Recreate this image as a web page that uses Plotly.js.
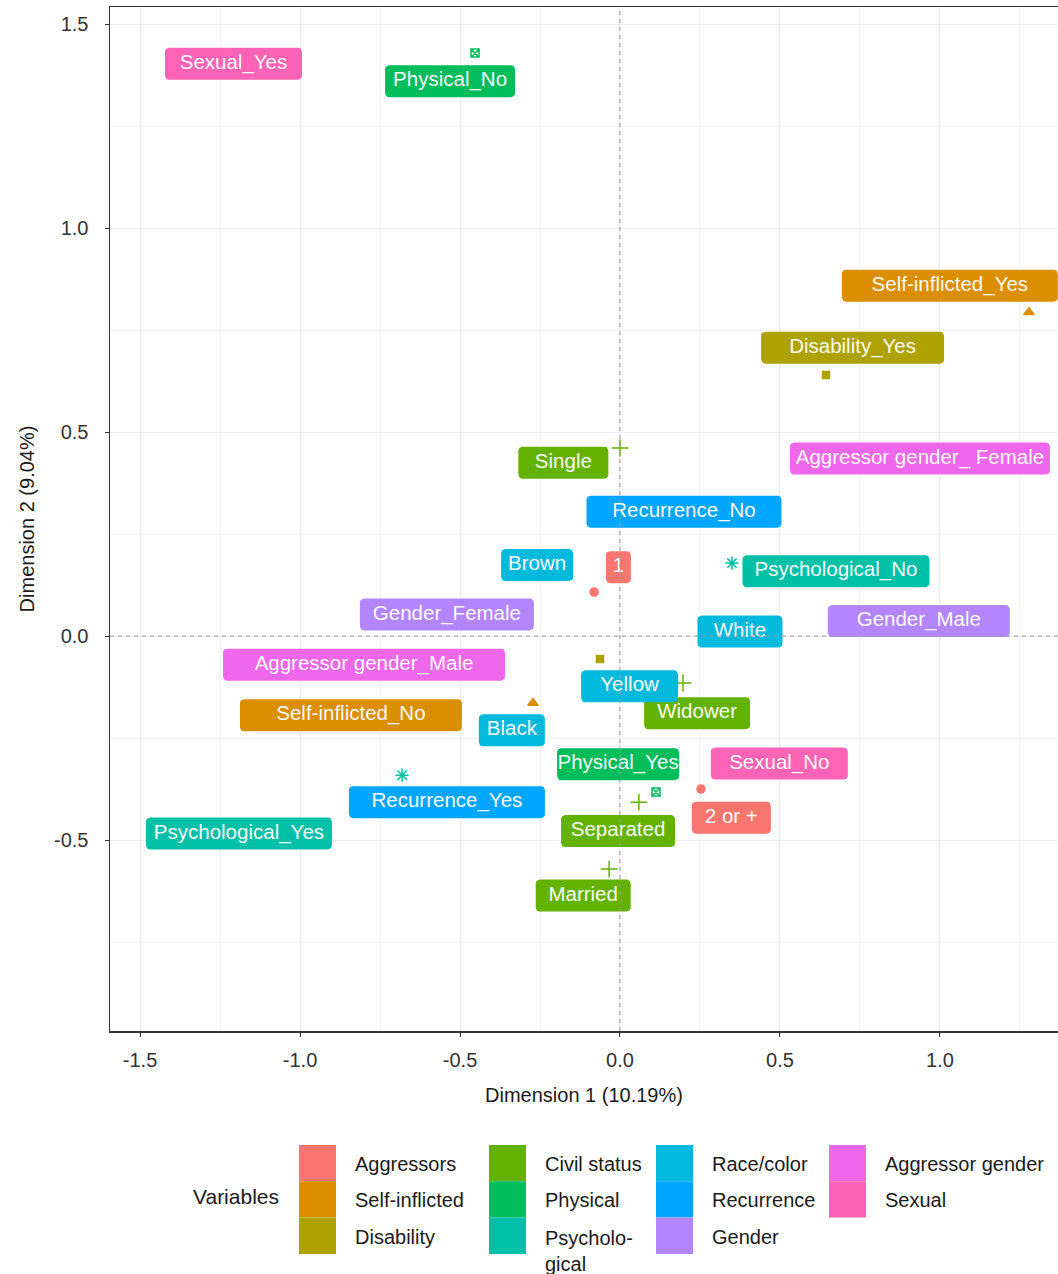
<!DOCTYPE html>
<html>
<head>
<meta charset="utf-8">
<script src="https://cdn.plot.ly/plotly-3.0.1.min.js"></script>
<style>html,body{margin:0;padding:0;background:#ffffff;}</style>
</head>
<body>
<div id="chart" style="width:1058px;height:1274px;"></div>
<script>
// ---------------- DATA ----------------
const groups = ['Aggressors','Self-inflicted','Disability','Civil status','Physical','Psychological','Race/color','Recurrence','Gender','Aggressor gender','Sexual'];
const groupLegendLabels = ['Aggressors','Self-inflicted','Disability','Civil status','Physical','Psycholo-<br>gical','Race/color','Recurrence','Gender','Aggressor gender','Sexual'];

// category points (only groups that get a shape)
const pointCategories = ['1','2 or +','Self-inflicted_Yes','Self-inflicted_No','Disability_Yes','Disability_No','Single','Widower','Separated','Married','Physical_No','Physical_Yes','Psychological_No','Psychological_Yes'];
const pointGroups = ['Aggressors','Aggressors','Self-inflicted','Self-inflicted','Disability','Disability','Civil status','Civil status','Civil status','Civil status','Physical','Physical','Psychological','Psychological'];
const pointDim1 = [-0.081, 0.253, 1.278, -0.272, 0.644, -0.0625, 0.000, 0.197, 0.059, -0.034, -0.453, 0.1125, 0.350, -0.681];
const pointDim2 = [0.108, -0.375, 0.794, -0.164, 0.640, -0.056, 0.461, -0.115, -0.407, -0.571, 1.429, -0.382, 0.179, -0.341];

// repelled label positions (Dimension 1, Dimension 2)
const labelTexts = ['Sexual_Yes','Physical_No','Self-inflicted_Yes','Disability_Yes','Aggressor gender_ Female','Single','Recurrence_No','Brown','1','Psychological_No','Gender_Female','White','Gender_Male','Aggressor gender_Male','Yellow','Self-inflicted_No','Widower','Black','Physical_Yes','Sexual_No','Recurrence_Yes','Psychological_Yes','Separated','2 or +','Married'];
const labelGroups = ['Sexual','Physical','Self-inflicted','Disability','Aggressor gender','Civil status','Recurrence','Race/color','Aggressors','Psychological','Gender','Race/color','Gender','Aggressor gender','Race/color','Self-inflicted','Civil status','Race/color','Physical','Sexual','Recurrence','Psychological','Civil status','Aggressors','Civil status'];
const labelDim1 = [-1.208, -0.531, 1.031, 0.727, 0.9375, -0.177, 0.200, -0.259, -0.005, 0.675, -0.541, 0.375, 0.934, -0.800, 0.030, -0.841, 0.241, -0.338, -0.006, 0.498, -0.541, -1.191, -0.006, 0.348, -0.115];
const labelDim2 = [1.403, 1.360, 0.859, 0.707, 0.435, 0.425, 0.305, 0.174, 0.169, 0.159, 0.053, 0.011, 0.037, -0.070, -0.123, -0.194, -0.189, -0.231, -0.314, -0.3125, -0.407, -0.484, -0.478, -0.445, -0.636];

// axis ticks
const xTickVals = [-1.5, -1.0, -0.5, 0.0, 0.5, 1.0];
const xTickLabels = ['-1.5', '-1.0', '-0.5', '0.0', '0.5', '1.0'];
const yTickVals = [-0.5, 0.0, 0.5, 1.0, 1.5];
const yTickLabels = ['-0.5', '0.0', '0.5', '1.0', '1.5'];

const xTitle = 'Dimension 1 (10.19%)';
const yTitle = 'Dimension 2 (9.04%)';
const legendTitle = 'Variables';

// ---------------- STYLE ----------------
const groupColors = ['#F8766D','#DB8E00','#AEA200','#64B200','#00BD5C','#00C1A7','#00BADE','#00A6FF','#B385FF','#EF67EB','#FF63B6'];
const groupSymbols = ['circle','triangle-up','square','cross-thin-open','square-x-open','asterisk-open'];
const groupSymbolSizes = [8, 9, 7, 12, 8, 11];
// label box widths in px (style of each repelled label)
const labelBoxWidths = [137,130,216,183,260,90,195,72,25,187,174,85,182,282,97,222,106,66,122,137,196,186,114,79,95];
const labelBoxHeight = 32;
const FONT = 'Liberation Sans, Arial, Helvetica, sans-serif';

const W = 1058, H = 1274;
const margin = {l:110, r:0, t:7, b:243};
const xRange = [-1.594, 1.369];
const yRange = [-0.968, 1.542];
const plotW = W - margin.l - margin.r;
const plotH = H - margin.t - margin.b;
const pxPerX = plotW / (xRange[1] - xRange[0]);
const pxPerY = plotH / (yRange[1] - yRange[0]);

function roundedBox(cx, cy, wPx, hPx, r) {
  const hw = wPx / 2, hh = hPx / 2;
  const corners = [[hw - r, hh - r, 0], [-hw + r, hh - r, 90], [-hw + r, -hh + r, 180], [hw - r, -hh + r, 270]];
  const pts = [];
  corners.forEach(([ox, oy, a0]) => {
    for (let k = 0; k <= 4; k++) {
      const a = (a0 + k * 22.5) * Math.PI / 180;
      pts.push([ox + r * Math.cos(a), oy + r * Math.sin(a)]);
    }
  });
  pts.push(pts[0]);
  return pts.map(([px, py]) => [cx + px / pxPerX, cy + py / pxPerY]);
}

const traces = [];
// points
groups.forEach((g, gi) => {
  if (gi >= groupSymbols.length) return;
  const xs = [], ys = [], tx = [];
  pointGroups.forEach((pg, i) => { if (pg === g) { xs.push(pointDim1[i]); ys.push(pointDim2[i]); tx.push(pointCategories[i]); } });
  traces.push({
    type: 'scatter', mode: 'markers', x: xs, y: ys, text: tx, name: g, showlegend: false, hoverinfo: 'skip',
    marker: {symbol: groupSymbols[gi], size: groupSymbolSizes[gi], color: groupColors[gi], line: {color: groupColors[gi], width: 1.5}}
  });
});
// label boxes
groups.forEach((g, gi) => {
  const xs = [], ys = [];
  labelGroups.forEach((lg, i) => {
    if (lg !== g) return;
    roundedBox(labelDim1[i], labelDim2[i], labelBoxWidths[i], labelBoxHeight, 4).forEach(([a, b]) => { xs.push(a); ys.push(b); });
    xs.push(null); ys.push(null);
  });
  if (!xs.length) return;
  traces.push({
    type: 'scatter', mode: 'lines', x: xs, y: ys, fill: 'toself', fillcolor: groupColors[gi],
    line: {width: 0, color: groupColors[gi]}, showlegend: false, hoverinfo: 'skip', connectgaps: false
  });
});
// label text
traces.push({
  type: 'scatter', mode: 'text', x: labelDim1, y: labelDim2, text: labelTexts, textposition: 'middle center',
  textfont: {family: FONT, size: 20.5, color: '#fafafa'}, showlegend: false, hoverinfo: 'skip', cliponaxis: false
});

function paperX(px) { return (px - margin.l) / plotW; }
function paperY(py) { return (H - margin.b - py) / plotH; }

const shapes = [
  {type: 'line', xref: 'x', yref: 'paper', x0: 0, x1: 0, y0: 0, y1: 1, layer: 'above', line: {color: '#9a9a9a', width: 1, dash: '4px,4px'}},
  {type: 'line', xref: 'paper', yref: 'y', x0: 0, x1: 1, y0: 0, y1: 0, layer: 'above', line: {color: '#9a9a9a', width: 1, dash: '4px,4px'}}
];
const annotations = [];

// legend (ggplot-like, columns of 3)
const legendCols = [299, 489, 656, 829];
const swatchW = 37, swatchH = 36.3, legendTop = 1145;
groups.forEach((g, gi) => {
  const col = Math.floor(gi / 3), row = gi % 3;
  const x0 = legendCols[col], y0 = legendTop + row * swatchH;
  shapes.push({type: 'rect', xref: 'paper', yref: 'paper', x0: paperX(x0), x1: paperX(x0 + swatchW), y0: paperY(y0), y1: paperY(y0 + swatchH),
    fillcolor: groupColors[gi], line: {width: 0}, layer: 'above'});
  const twoLine = groupLegendLabels[gi].indexOf('<br>') >= 0;
  annotations.push({xref: 'paper', yref: 'paper', x: paperX(x0 + swatchW + 17), y: paperY(y0 + swatchH / 2 + (twoLine ? 15 : 1)),
    xanchor: 'left', yanchor: 'middle', align: 'left', showarrow: false, text: groupLegendLabels[gi],
    font: {family: FONT, size: 20, color: '#1a1a1a'}});
});
annotations.push({xref: 'paper', yref: 'paper', x: paperX(236), y: paperY(1196), xanchor: 'center', yanchor: 'middle', showarrow: false,
  text: legendTitle, font: {family: FONT, size: 21, color: '#1a1a1a'}});

const axisCommon = {
  showgrid: true, gridcolor: '#ebebeb', gridwidth: 1, zeroline: false,
  showline: true, linecolor: '#333333', linewidth: 1.5,
  ticks: 'outside', ticklen: 4, tickcolor: '#333333', tickwidth: 1,
  tickfont: {family: FONT, size: 20, color: '#333333'},
  minor: {dtick: 0.25, tick0: 0, showgrid: true, gridcolor: '#f2f2f2', gridwidth: 1, ticks: ''},
  tickmode: 'array', fixedrange: true
};

const layout = {
  width: W, height: H, margin: margin, paper_bgcolor: '#ffffff', plot_bgcolor: '#ffffff',
  showlegend: false,
  xaxis: Object.assign({}, axisCommon, {range: xRange, tickvals: xTickVals, ticktext: xTickLabels, mirror: true, ticklabelstandoff: 6,
    title: {text: xTitle, font: {family: FONT, size: 20, color: '#1a1a1a'}, standoff: 18}}),
  yaxis: Object.assign({}, axisCommon, {range: yRange, tickvals: yTickVals, ticktext: yTickLabels, ticklabelstandoff: 12,
    title: {text: yTitle, font: {family: FONT, size: 20, color: '#1a1a1a'}, standoff: 14}}),
  shapes: shapes, annotations: annotations, hovermode: false
};

Plotly.newPlot('chart', traces, layout, {displayModeBar: false, staticPlot: true});
</script>
</body>
</html>
